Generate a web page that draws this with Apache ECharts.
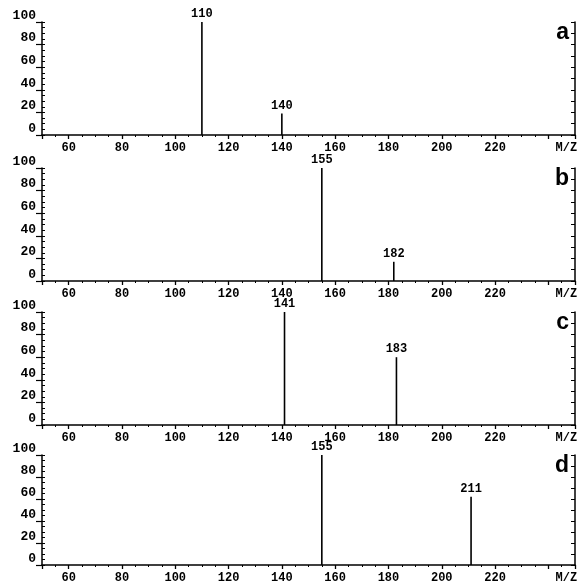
<!DOCTYPE html>
<html><head><meta charset="utf-8">
<script src="https://cdn.jsdelivr.net/npm/echarts@6/dist/echarts.min.js"></script>
<style>html,body{margin:0;padding:0;background:#fff}#c{width:582px;height:584px}</style>
</head><body><div id="c"></div>
<script>
// m/z of each peak and its relative intensity (%), one pair of arrays per panel
const panelNames = ['a', 'b', 'c', 'd'];
const mzA = [110, 140];
const intA = [100, 19];
const mzB = [155, 182];
const intB = [100, 17];
const mzC = [141, 183];
const intC = [100, 60];
const mzD = [155, 211];
const intD = [100, 62];
const yTickLabels = [0, 20, 40, 60, 80, 100];
const xLabelValues = [60, 80, 100, 120, 140, 160, 180, 200, 220];
const xUnitLabel = 'M/Z';

const panels = [[mzA, intA], [mzB, intB], [mzC, intC], [mzD, intD]];
const tops = [22, 168, 312, 455];
const H = 113;
const mono = 'Liberation Mono';
const grid = [], xAxis = [], yAxis = [], series = [], title = [];

panels.forEach((p, i) => {
  grid.push({left: 42, right: 7, top: tops[i], height: H, containLabel: false});
  xAxis.push({
    type: 'value', gridIndex: i, min: 50, max: 250, splitNumber: 10,
    minInterval: 20, maxInterval: 20,
    axisLine: {show: true, lineStyle: {color: '#000', width: 1.5}},
    axisTick: {show: true, length: 4, lineStyle: {color: '#000', width: 1.3}},
    minorTick: {show: true, splitNumber: 4, length: 2, lineStyle: {color: '#000', width: 1}},
    splitLine: {show: false},
    axisLabel: {
      show: true, margin: 7, color: '#000', fontFamily: mono, fontWeight: 'bold', fontSize: 12,
      showMinLabel: true, showMaxLabel: true,
      formatter: v => {
        if (xLabelValues.indexOf(v) >= 0) return String(v);
        if (v === 240) return '{m|' + xUnitLabel + '}';
        return '';
      },
      rich: {m: {fontFamily: mono, fontWeight: 'bold', fontSize: 12, color: '#000', padding: [0, 0, 0, 36]}}
    }
  });
  // labelled left axis
  yAxis.push({
    type: 'value', gridIndex: i, position: 'left', min: 0, max: 100, interval: 20,
    axisLine: {show: true, lineStyle: {color: '#000', width: 1.5}},
    axisTick: {show: true, length: 6, lineStyle: {color: '#000', width: 1.2}},
    splitLine: {show: false},
    axisLabel: {
      show: true, margin: 6, color: '#000', fontFamily: mono, fontWeight: 'bold', fontSize: 13,
      verticalAlign: 'bottom', lineHeight: 13,
      formatter: v => yTickLabels.indexOf(v) >= 0 ? String(v) : ''
    }
  });
  // inner minor ticks on left axis
  yAxis.push({
    type: 'value', gridIndex: i, position: 'left', offset: 0, min: 0, max: 100, interval: 5,
    axisLine: {show: false},
    axisTick: {show: true, inside: true, length: 3, lineStyle: {color: '#000', width: 1}},
    splitLine: {show: false}, axisLabel: {show: false}
  });
  // right frame axis
  yAxis.push({
    type: 'value', gridIndex: i, position: 'right', min: 0, max: 100, interval: 10,
    axisLine: {show: true, lineStyle: {color: '#000', width: 1.5}},
    axisTick: {show: true, inside: true, length: 4, lineStyle: {color: '#000', width: 1}},
    splitLine: {show: false}, axisLabel: {show: false}
  });
  series.push({
    type: 'bar', xAxisIndex: i, yAxisIndex: i * 3, barWidth: 1.6,
    itemStyle: {color: '#000'},
    data: p[0].map((m, k) => [m, p[1][k]]),
    label: {show: true, position: 'top', distance: 2, color: '#000', fontFamily: mono,
            fontWeight: 'bold', fontSize: 12, formatter: q => String(q.value[0])},
    animation: false
  });
  title.push({
    text: panelNames[i], right: 8, top: tops[i] - 6,
    textStyle: {fontFamily: 'Liberation Sans', fontWeight: 'bold', fontSize: 23, color: '#000'}
  });
});

const chart = echarts.init(document.getElementById('c'), null, {renderer: 'canvas'});
chart.setOption({animation: false, backgroundColor: '#fff', title, grid, xAxis, yAxis, series});
</script></body></html>
